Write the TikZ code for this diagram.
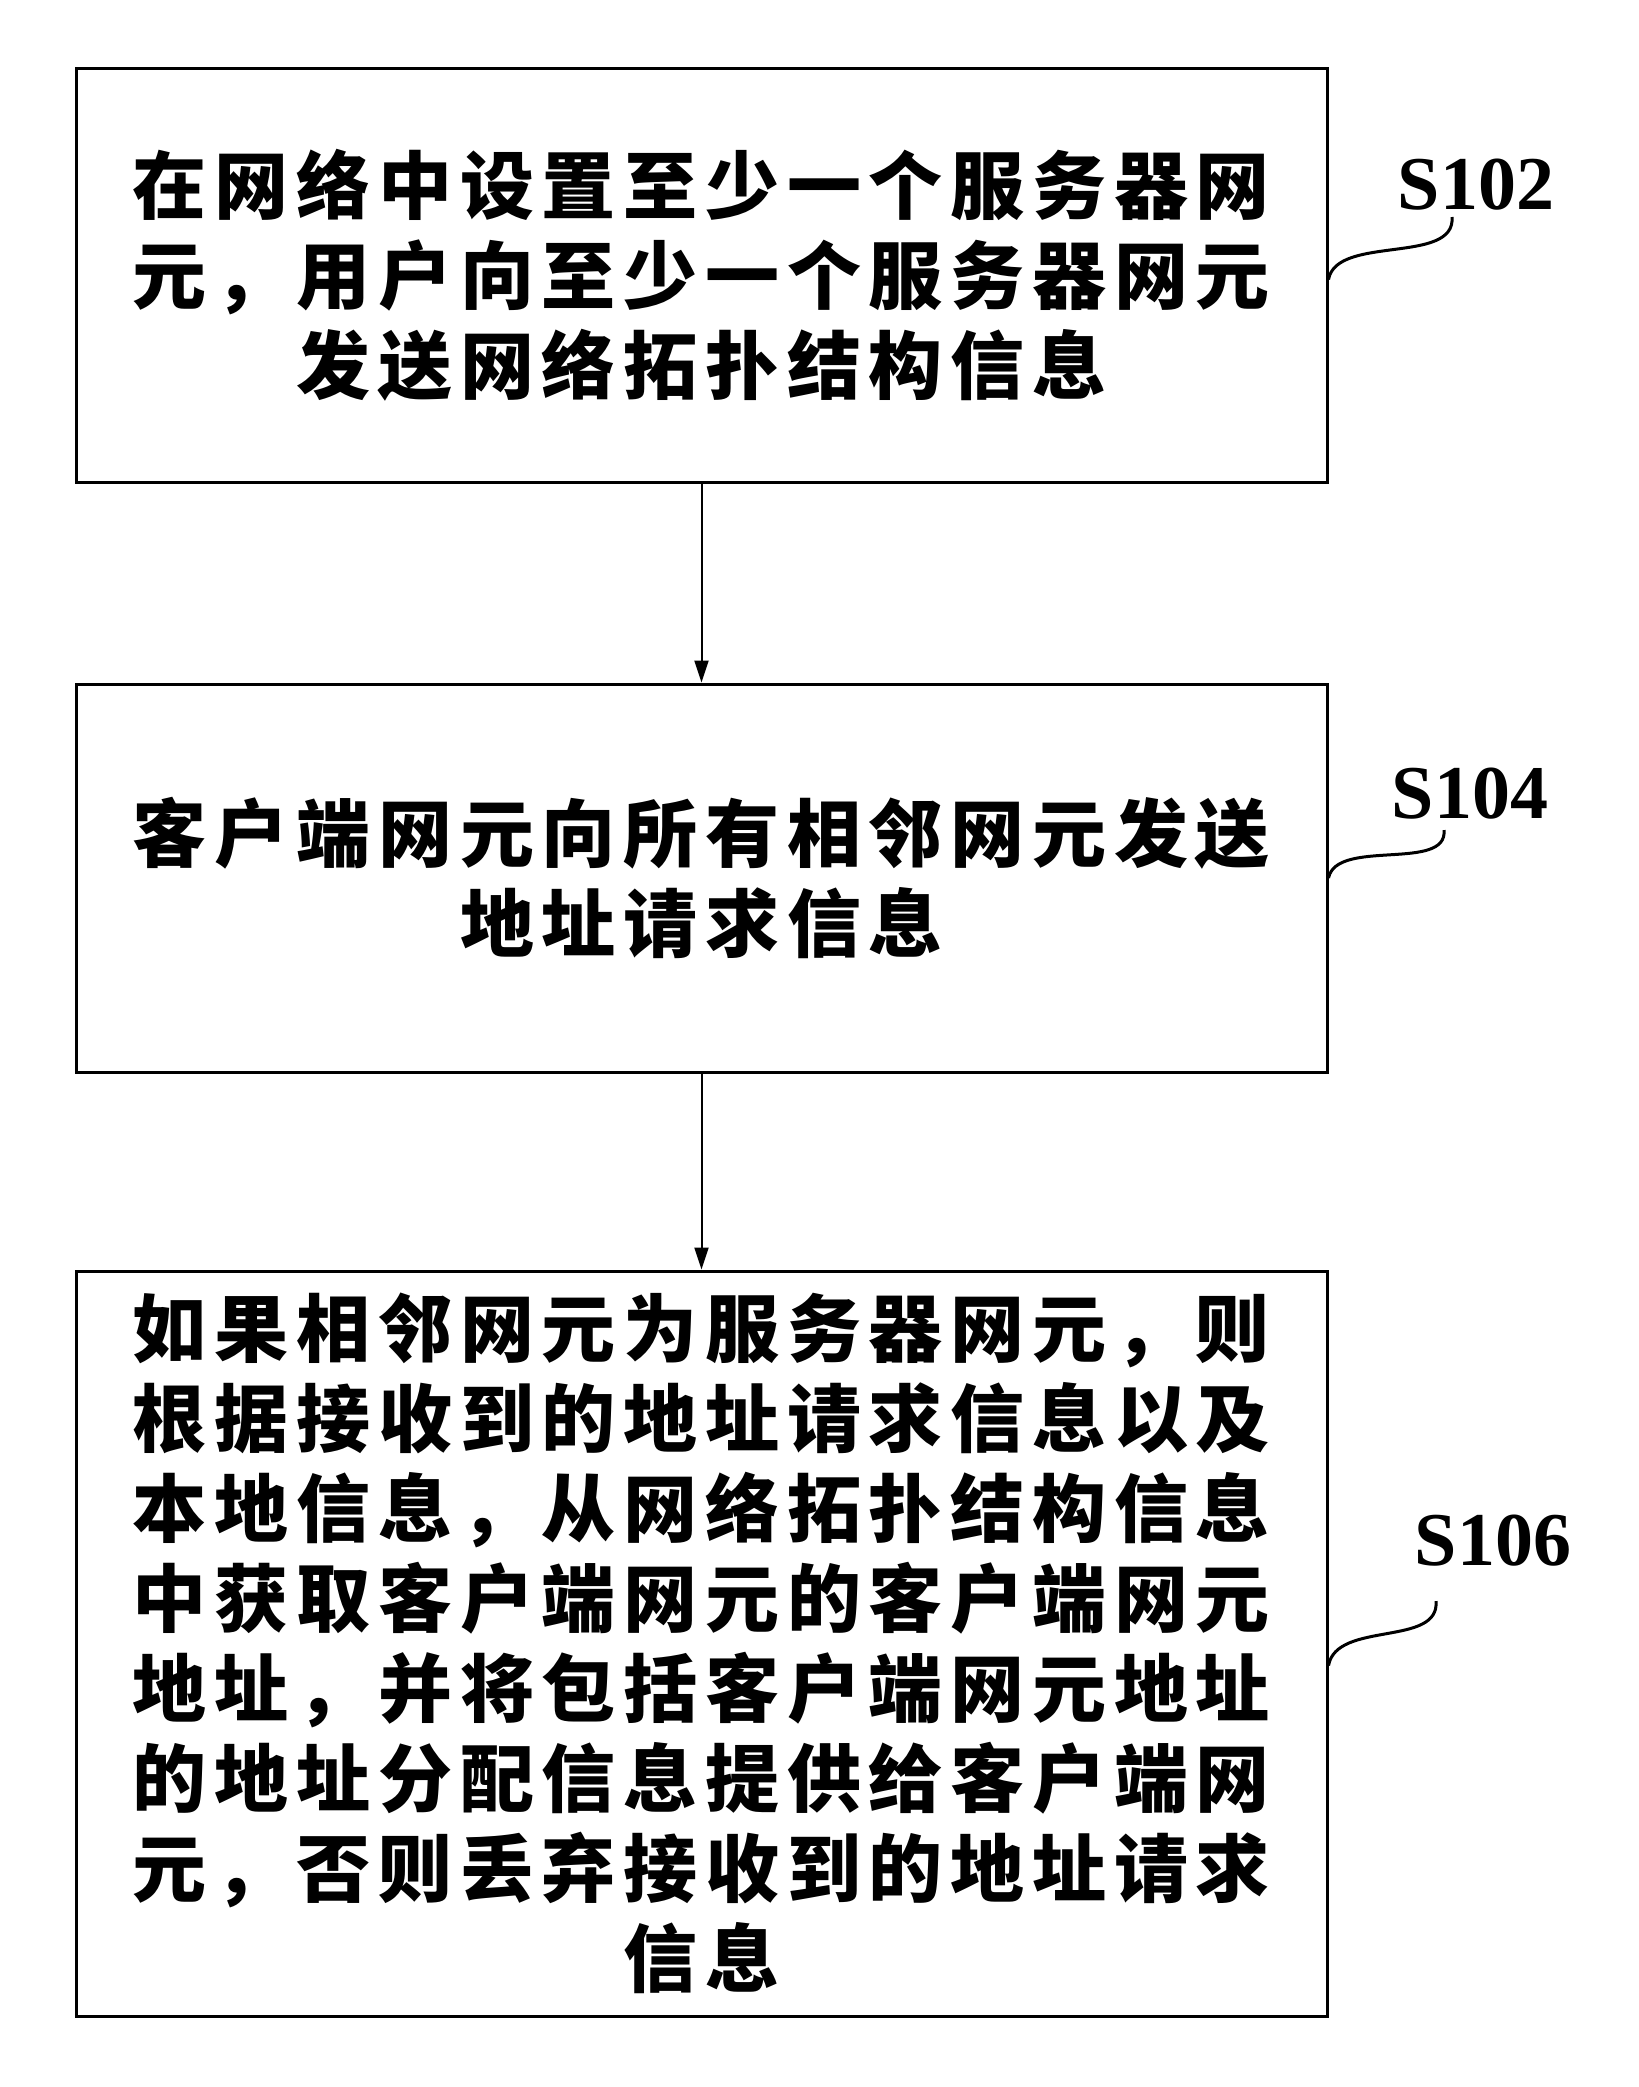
\documentclass[tikz,border=0pt]{standalone}
\usepackage{fontspec}
\usepackage{tikz}
\usetikzlibrary{arrows.meta}
\setmainfont{Liberation Serif}
\newfontfamily\cjk[LetterSpace=10.5]{Noto Sans CJK SC}

\begin{document}
\begin{tikzpicture}[x=0.5pt,y=-0.5pt,
    stepbox/.style={draw,line width=1.5pt,minimum width=625.5pt,inner sep=0pt,align=center,
        font=\cjk\bfseries\fontsize{37}{45}\selectfont},
    steplabel/.style={inner sep=0pt,font=\bfseries\fontsize{38}{40}\selectfont},
    flow/.style={-{Triangle[length=11pt,width=7pt]},line width=1pt},
    tick/.style={line width=1.5pt}]
        \useasboundingbox (0,0) rectangle (1638,2087);

        % Boxes
        \node[stepbox,minimum height=206.5pt] (b1) at (701.5,275.5) {在网络中设置至少一个服务器网\\元，用户向至少一个服务器网元\\发送网络拓扑结构信息};
        \node[stepbox,minimum height=194pt] (b2) at (701.5,878) {客户端网元向所有相邻网元发送\\地址请求信息};
        \node[stepbox,minimum height=372.5pt] (b3) at (701.5,1643.5) {如果相邻网元为服务器网元，则\\根据接收到的地址请求信息以及\\本地信息，从网络拓扑结构信息\\中获取客户端网元的客户端网元\\地址，并将包括客户端网元地址\\的地址分配信息提供给客户端网\\元，否则丢弃接收到的地址请求\\信息};

        % Arrows
        \draw[flow] (b1) -- (b2);
        \draw[flow] (b2) -- (b3);

        % Step labels
        \node[steplabel] (s102) at (1476,185) {S102};
        \node[steplabel] (s104) at (1470,794) {S104};
        \node[steplabel] (s106) at (1493,1541) {S106};

        % Label ticks
        \coordinate (t102) at (1452,217);
        \coordinate (t104) at (1444,830);
        \coordinate (t106) at (1436,1601);
        \draw[tick] ([yshift=-2pt]b1.east) .. controls +(8,-45) and +(4,48) .. (t102);
        \draw[tick] (b2.east) .. controls +(8,-40) and +(4,42) .. (t104);
        \draw[tick] ([yshift=-11pt]b3.east) .. controls +(8,-45) and +(4,46) .. (t106);
\end{tikzpicture}
\end{document}
